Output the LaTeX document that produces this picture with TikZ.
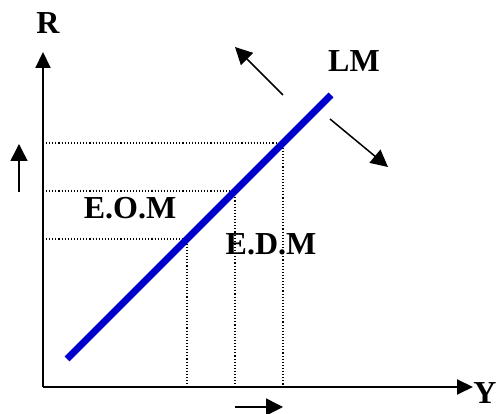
\documentclass[tikz,border=0pt]{standalone}
\usepackage{fontspec}
\setmainfont{Liberation Serif}
\usepackage{tikz}
\usetikzlibrary{arrows.meta,calc}
\definecolor{lmblue}{RGB}{0,0,204}

\begin{document}
\begin{tikzpicture}[
    x=10pt, y=10pt,
    font=\fontsize{32}{32}\selectfont\bfseries,
    axis/.style={line width=2pt, -{Triangle[length=16pt, width=15pt]}},
    movearrow/.style={line width=1.5pt, -{Triangle[length=17pt, width=17pt]}},
    guide/.style={line width=1.1pt, dotted},
    lbl/.style={inner sep=0pt}
]
\useasboundingbox (-4.3,-2.7) rectangle (45.3,38.7);

% Axes
\coordinate (O) at (0,0);
\coordinate (Rtop) at (0,33.5);
\coordinate (Yend) at (43,0);
\draw [axis] (O) -- (Rtop);
\draw [axis] (O) -- (Yend);
\node (R) [lbl] at (0.5,36.4) {R};
\node (Y) [lbl] at (44.2,-0.6) {Y};

% Points on the LM curve
\coordinate (P1) at (14.4,14.8);
\coordinate (P2) at (19.2,19.6);
\coordinate (P3) at (24.0,24.4);

% Dotted guides
\foreach \p in {P1,P2,P3} {
  \draw [guide] (\p -| O) -- (\p) -- (\p |- O);
}

% LM curve
\coordinate (LMa) at (2.4,2.8);
\coordinate (LMb) at (28.8,29.2);
\draw [lmblue, line width=7pt] (LMa) -- (LMb);
\node (LM) [lbl] at (31.1,32.6) {LM};

% Shifts of LM
\coordinate (S1) at (24.0,29.2);
\coordinate (S1t) at (19.2,34.0);
\draw [movearrow] (S1) -- (S1t);
\coordinate (S2) at (28.7,26.8);
\coordinate (S2t) at (34.5,22.0);
\draw [movearrow] (S2) -- (S2t);

% Direction arrows
\coordinate (U0) at (-2.4,19.5);
\coordinate (U1) at (-2.4,24.3);
\draw [movearrow] (U0) -- (U1);
\coordinate (V0) at (19.2,-2.0);
\coordinate (V1) at (24.0,-2.0);
\draw [movearrow] (V0) -- (V1);

% Labels
\node (EOM) [lbl] at (8.7,17.9) {E.O.M};
\node (EDM) [lbl] at (22.8,14.3) {E.D.M};

\end{tikzpicture}
\end{document}
